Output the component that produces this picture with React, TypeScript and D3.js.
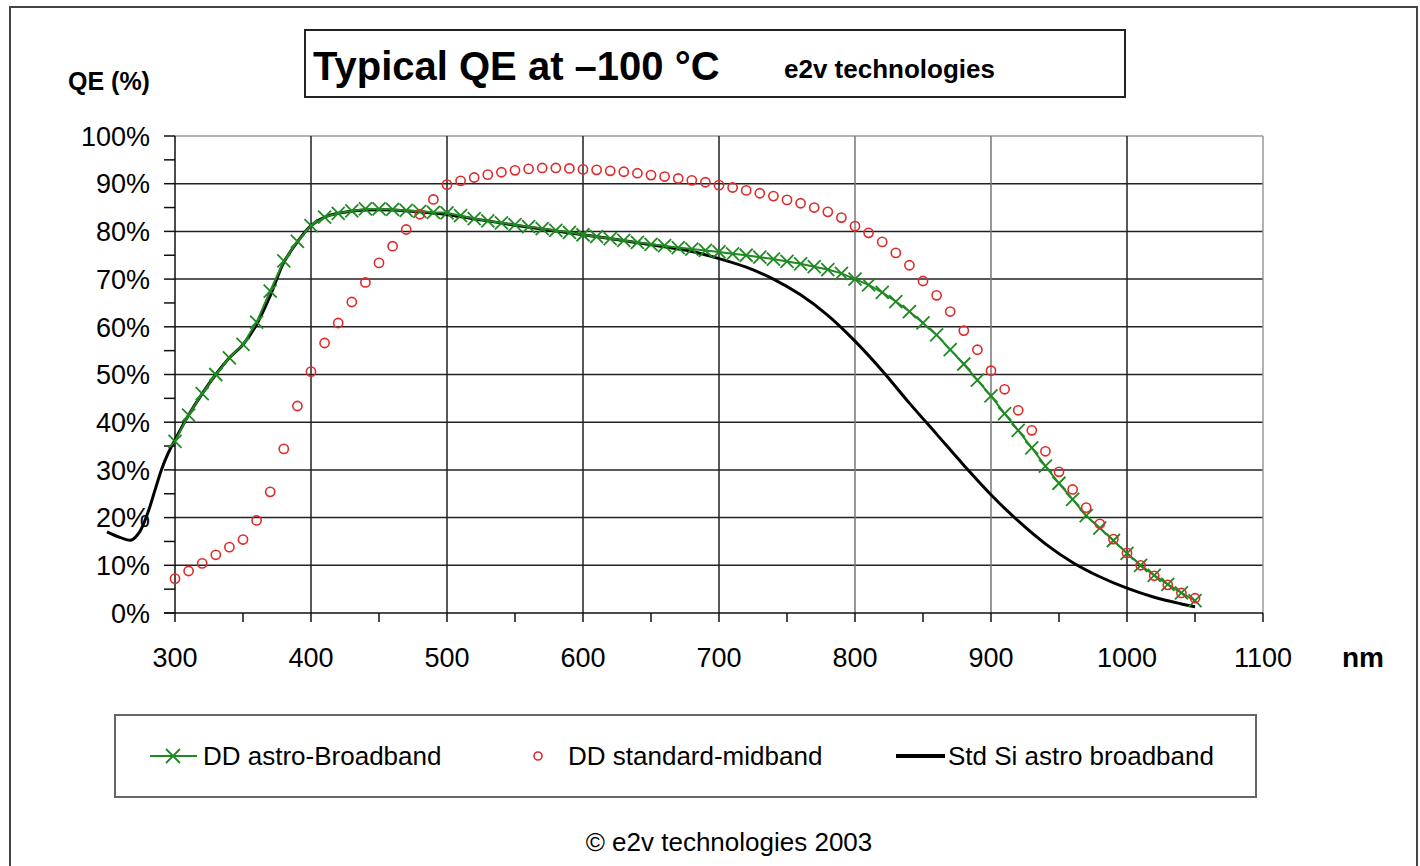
import React from 'react';
import * as d3 from 'd3';

// wavelengths (nm) of the marker series
const waves = d3.range(300, 1051, 10);

const astroBroadband = [
  36, 41.5, 46, 50, 53.5, 56.3, 61, 67.5, 73.8, 77.9,
  81.2, 83, 83.8, 84.3, 84.7, 84.7, 84.6, 84.4, 84.2, 84,
  83.9, 83.3, 82.7, 82.2, 81.8, 81.4, 81, 80.6, 80.2, 79.8,
  79.3, 78.9, 78.5, 78.1, 77.7, 77.3, 77, 76.6, 76.3, 76,
  75.7, 75.3, 75, 74.6, 74.2, 73.7, 73.2, 72.6, 72, 71.2,
  70, 68.8, 67.2, 65.3, 63.2, 60.8, 58.3, 55.2, 52.2, 48.8,
  45.5, 41.8, 38.3, 34.6, 30.8, 27.2, 23.8, 20.4, 17.8, 15.2,
  12.5, 10, 7.9, 6, 4.2, 2.6,
];

const standardMidband = [
  7.2, 8.8, 10.4, 12.2, 13.8, 15.4, 19.4, 25.4, 34.4, 43.4,
  50.6, 56.6, 60.8, 65.2, 69.3, 73.4, 76.9, 80.4, 83.6, 86.7,
  89.8, 90.6, 91.3, 91.9, 92.4, 92.8, 93.1, 93.3, 93.3, 93.2,
  93, 92.9, 92.7, 92.5, 92.2, 91.8, 91.5, 91.1, 90.7, 90.3,
  89.7, 89.2, 88.6, 88, 87.4, 86.6, 85.9, 85, 84.1, 82.9,
  81.1, 79.7, 77.8, 75.5, 72.9, 69.6, 66.6, 63.2, 59.2, 55.2,
  50.8, 46.9, 42.5, 38.3, 33.9, 29.6, 25.9, 22.1, 18.7, 15.5,
  12.6, 10, 7.8, 5.9, 4.2, 3.1,
];

// Std Si astro broadband (continuous curve)
const siWaves = [
  250, 260, 268, 274, 280, 285, 290, 295, 300, 310, 320, 330, 340, 350, 360, 370, 380, 390,
  400, 410, 420, 440, 460, 480, 500, 550, 600, 650, 680, 700, 720, 740, 760, 780, 800, 820,
  840, 860, 880, 900, 920, 940, 960, 980, 1000, 1020, 1040, 1050,
];
const siValues = [
  17, 15.8, 15.3, 17, 21, 25.5, 30, 33.5, 36.3, 41.5, 46, 50, 53.5, 56.3, 60.5, 66.5, 73.5, 77.8,
  81.2, 83, 83.8, 84.5, 84.5, 84.1, 83.5, 81.3, 79.3, 77.2, 75.8, 74.3, 72.5, 70, 66.7, 62.4, 57, 50.8,
  44, 37.5, 31, 24.8, 19.3, 14.5, 10.6, 7.6, 5.2, 3.3, 1.9, 1.3,
];

const xTicks = [300, 400, 500, 600, 700, 800, 900, 1000, 1100];
const yTicks = [0, 10, 20, 30, 40, 50, 60, 70, 80, 90, 100];

const GREEN = '#1f8a22';
const RED = '#e02a2a';
const FONT = '"Liberation Sans", Arial, sans-serif';

const App = () => {
  const x = d3.scaleLinear().domain([300, 1100]).range([175, 1263]);
  const y = d3.scaleLinear().domain([0, 100]).range([613, 136]);

  const greenPts = waves.map((w, i) => [w, astroBroadband[i]] as [number, number]);
  const redPts = waves.map((w, i) => [w, standardMidband[i]] as [number, number]);
  const siPts = siWaves.map((w, i) => [w, siValues[i]] as [number, number]);

  const straight = d3.line<[number, number]>().x(d => x(d[0])).y(d => y(d[1]));
  const smooth = d3.line<[number, number]>().x(d => x(d[0])).y(d => y(d[1])).curve(d3.curveCatmullRom.alpha(0.5));

  const minorX = d3.range(300, 1101, 50);
  const minorY = d3.range(0, 101, 5);

  const gridColor = (v: number) => (v === 800 || v === 900 ? '#777' : '#222');

  return (
    <svg width={1420} height={866} style={{ position: 'absolute', left: 0, top: 0, background: '#fff' }}
      fontFamily={FONT}>
      {/* outer frame */}
      <rect x={10} y={7} width={1407} height={880} fill="none" stroke="#444" strokeWidth={2} />

      {/* title box */}
      <rect x={305} y={30} width={820} height={67} fill="none" stroke="#222" strokeWidth={2} />
      <text x={313} y={80} fontSize={40} fontWeight="bold">Typical QE at –100 °C</text>
      <text x={784} y={78} fontSize={26} fontWeight="bold">e2v technologies</text>
      <text x={68} y={90} fontSize={25} fontWeight="bold">QE (%)</text>

      {/* gridlines */}
      {yTicks.filter(v => v > 0).map(v => (
        <line key={'gy' + v} x1={175} x2={1263} y1={y(v)} y2={y(v)}
          stroke={v === 100 ? '#999' : '#222'} strokeWidth={1.5} />
      ))}
      {xTicks.filter(v => v > 300).map(v => (
        <line key={'gx' + v} x1={x(v)} x2={x(v)} y1={y(100)} y2={y(0)}
          stroke={v === 1100 ? '#999' : gridColor(v)} strokeWidth={1.5} />
      ))}

      {/* axes */}
      <line x1={175} x2={175} y1={y(100)} y2={y(0)} stroke="#111" strokeWidth={1.5} />
      <line x1={164} x2={1263} y1={y(0)} y2={y(0)} stroke="#111" strokeWidth={1.5} />
      {minorY.map(v => (
        <line key={'ty' + v} x1={164} x2={175} y1={y(v)} y2={y(v)} stroke="#111" strokeWidth={1.5} />
      ))}
      {minorX.map(v => (
        <line key={'tx' + v} x1={x(v)} x2={x(v)} y1={y(0)} y2={y(0) + 9} stroke="#111" strokeWidth={1.5} />
      ))}

      {/* tick labels */}
      {yTicks.map(v => (
        <text key={'ly' + v} x={150} y={y(v)} dy="0.36em" textAnchor="end" fontSize={27}>{v}%</text>
      ))}
      {xTicks.map(v => (
        <text key={'lx' + v} x={x(v)} y={667} textAnchor="middle" fontSize={27}>{v}</text>
      ))}
      <text x={1342} y={667} fontSize={28} fontWeight="bold">nm</text>

      {/* series */}
      <path d={smooth(siPts) || ''} fill="none" stroke="#000" strokeWidth={3} />
      <path d={straight(greenPts) || ''} fill="none" stroke={GREEN} strokeWidth={2} />
      {greenPts.map((d, i) => (
        <path key={'g' + i} transform={`translate(${x(d[0])},${y(d[1])})`}
          d="M-6.5,-6.5L6.5,6.5M-6.5,6.5L6.5,-6.5" stroke={GREEN} strokeWidth={1.8} fill="none" />
      ))}
      {redPts.map((d, i) => (
        <circle key={'r' + i} cx={x(d[0])} cy={y(d[1])} r={4.6} fill="none" stroke={RED} strokeWidth={1.6} />
      ))}

      {/* legend */}
      <rect x={115} y={715} width={1141} height={82} fill="none" stroke="#666" strokeWidth={2} />
      <line x1={150} x2={197} y1={756} y2={756} stroke={GREEN} strokeWidth={1.8} />
      <path transform="translate(173,756)" d="M-7,-7L7,7M-7,7L7,-7" stroke={GREEN} strokeWidth={1.8} />
      <text x={203} y={756} dy="0.36em" fontSize={26}>DD astro-Broadband</text>
      <circle cx={538} cy={756} r={4} fill="none" stroke={RED} strokeWidth={1.6} />
      <text x={568} y={756} dy="0.36em" fontSize={26}>DD standard-midband</text>
      <line x1={896} x2={945} y1={756} y2={756} stroke="#000" strokeWidth={4} />
      <text x={948} y={756} dy="0.36em" fontSize={26}>Std Si astro broadband</text>

      <text x={729} y={851} textAnchor="middle" fontSize={26}>© e2v technologies 2003</text>
    </svg>
  );
};

export default App;
